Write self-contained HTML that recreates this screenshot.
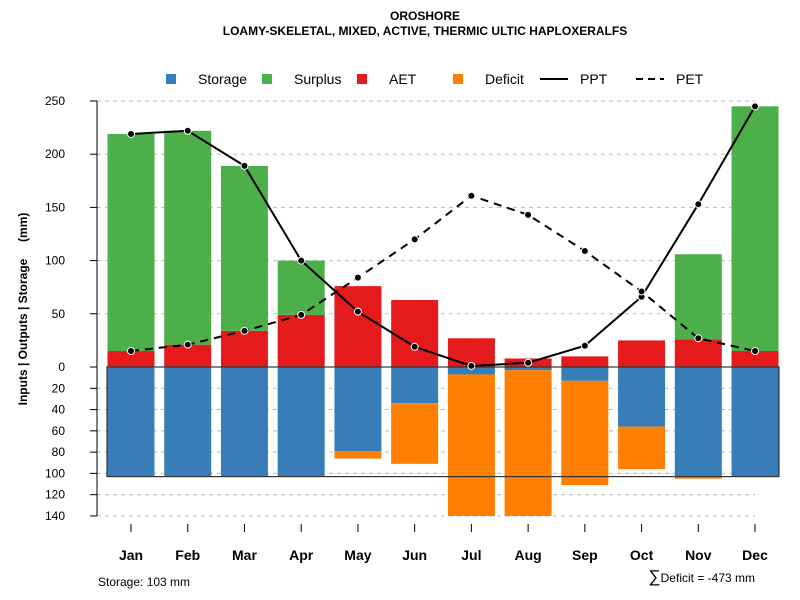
<!DOCTYPE html>
<html><head><meta charset="utf-8"><style>
body{margin:0;background:#fff}
svg{display:block;font-family:"Liberation Sans",Arial,sans-serif}
</style></head><body>
<svg id="c" width="800" height="600">
<text x="425" y="20" text-anchor="middle" font-size="12" font-weight="bold">OROSHORE</text>
<text x="425" y="35" text-anchor="middle" font-size="12" font-weight="bold">LOAMY-SKELETAL, MIXED, ACTIVE, THERMIC ULTIC HAPLOXERALFS</text>
<g id="grid"></g><g id="bars"></g><g id="lines"></g><g id="axes"></g>
<g font-size="14">
<rect x="166" y="74" width="10" height="10" fill="#377eb8"/><text x="198" y="84">Storage</text>
<rect x="262" y="74" width="10" height="10" fill="#4daf4a"/><text x="294" y="84">Surplus</text>
<rect x="357" y="74" width="10" height="10" fill="#e41a1c"/><text x="389" y="84">AET</text>
<rect x="453" y="74" width="10" height="10" fill="#ff7f00"/><text x="485" y="84">Deficit</text>
<line x1="540" y1="79" x2="568" y2="79" stroke="#000" stroke-width="2"/><text x="580" y="84">PPT</text>
<line x1="636" y1="79" x2="664" y2="79" stroke="#000" stroke-width="2" stroke-dasharray="7,5"/><text x="676" y="84">PET</text>
</g>
<text transform="translate(27,309) rotate(-90)" text-anchor="middle" font-size="12" font-weight="bold" style="white-space:pre">Inputs | Outputs | Storage     (mm)</text>
<text x="98" y="586" font-size="12">Storage: 103 mm</text>
<text x="755" y="582" text-anchor="end" font-size="12"><tspan font-size="17">∑</tspan>Deficit = -473 mm</text>
</svg>
<script>
const months=["Jan","Feb","Mar","Apr","May","Jun","Jul","Aug","Sep","Oct","Nov","Dec"];
const ppt=[219,222,189,100,52,19,1,4,20,66,153,245];
const pet=[15,21,34,49,84,120,161,143,109,71,27,15];
const aet=[15,21,34,49,76,63,27,8,10,25,26,15];
const surplus=[204,201,155,51,0,0,0,0,0,0,80,230];
const storage=[103,103,103,103,79,34,7,3,13,56,103,103];
const deficit=[0,0,0,0,7,57,133,137,98,40,2,0];
const posTicks=[0,50,100,150,200,250];
const negTicks=[20,40,60,80,100,120,140];
const awc=103;
const NS="http://www.w3.org/2000/svg";
const y=v=>367-v*1.064;
const x=i=>131+i*56.73;
const bw=47;
function mk(p,t,a){const e=document.createElementNS(NS,t);for(const k in a)e.setAttribute(k,a[k]);p.appendChild(e);return e;}
const G=document.getElementById('grid'),B=document.getElementById('bars'),L=document.getElementById('lines'),A=document.getElementById('axes');
posTicks.concat(negTicks.map(v=>-v)).forEach(v=>{
 if(v!==0){const g=mk(G,'line',{x1:97,x2:755,y1:y(v),y2:y(v),stroke:'#bbb','stroke-dasharray':'4,4'});
 
 }
 const t=mk(A,'line',{x1:90,x2:97,y1:y(v),y2:y(v),stroke:'#000'});
 
 
 const tx=mk(A,'text',{x:65,y:y(v)+4,'text-anchor':'end','font-size':12});tx.textContent=Math.abs(v);
 
 
});
const ax=mk(A,'line',{x1:97,x2:97,y1:y(250),y2:y(-140),stroke:'#000'});


months.forEach((m,i)=>{
 const cx=x(i),l=cx-bw/2;
 const r1=mk(B,'rect',{x:l,y:y(aet[i]),width:bw,height:aet[i]*1.064,fill:'#e41a1c'});
 
 
 const r2=mk(B,'rect',{x:l,y:y(aet[i]+surplus[i]),width:bw,height:surplus[i]*1.064,fill:'#4daf4a'});
 
 
 const r3=mk(B,'rect',{x:l,y:y(0),width:bw,height:storage[i]*1.064,fill:'#377eb8'});
 
 
 const r4=mk(B,'rect',{x:l,y:y(-storage[i]),width:bw,height:deficit[i]*1.064,fill:'#ff7f00'});
 
 
 const tk=mk(A,'line',{x1:cx,x2:cx,y1:524,y2:532,stroke:'#000'});
 
 
 const t=mk(A,'text',{x:cx,y:560,'text-anchor':'middle','font-size':14,'font-weight':'bold'});t.textContent=m;
 
 
});
const box=mk(B,'rect',{x:107,y:y(0),width:672,height:awc*1.064,fill:'none',stroke:'#333','stroke-width':1.2});


function series(d,name,dash){
 const p=mk(L,'polyline',{points:d.map((v,i)=>x(i)+','+y(v)).join(' '),fill:'none',stroke:'#000','stroke-width':2,'stroke-dasharray':dash});
 
 
 d.forEach((v,i)=>{const c=mk(L,'circle',{cx:x(i),cy:y(v),r:3.5,fill:'#000',stroke:'#fff','stroke-width':1});
 
 });
}
series(ppt,'ppt','none');
series(pet,'pet','8,6');
</script>
</body></html>
